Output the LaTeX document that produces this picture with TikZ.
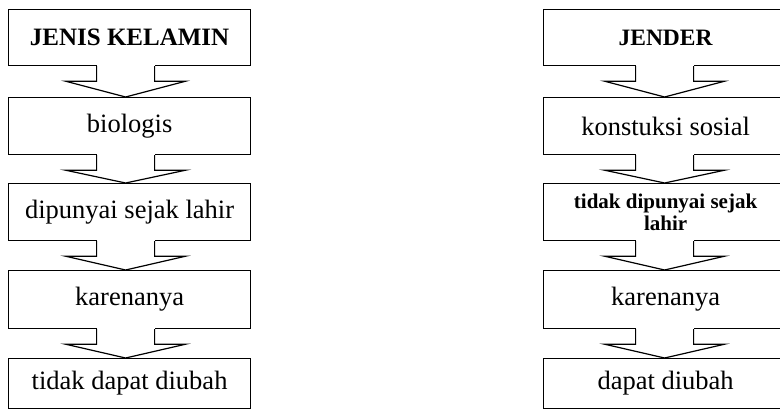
\documentclass[tikz,border=0pt]{standalone}
\usepackage{fontspec}
\setmainfont{Liberation Serif}

\begin{document}
\begin{tikzpicture}[x=1pt,y=-1pt,line width=1.2pt,line join=miter,
  kotak/.style={draw,anchor=north west,minimum width=242pt,inner sep=0pt,
    font=\fontsize{26.5}{28}\selectfont},
  kotakkanan/.style={kotak,minimum width=300pt,align=center}]
 \useasboundingbox (0,0) rectangle (780,410);
 \clip (0,0) rectangle (780,410);
 % kolom kiri
 \node[kotak,minimum height=56pt,font=\fontsize{25}{28}\selectfont\bfseries] (l1) at (8,9) {JENIS KELAMIN};
 \node[kotak,minimum height=57pt] (l2) at (8,97) {biologis};
 \node[kotak,minimum height=57pt] (l3) at (8,183) {dipunyai sejak lahir};
 \node[kotak,minimum height=58pt] (l4) at (8,270) {karenanya};
 \node[kotak,minimum height=50pt] (l5) at (8,358) {tidak dapat diubah};
 % kolom kanan (terpotong di tepi kanan)
 \node[kotakkanan,minimum height=56pt,font=\fontsize{23.5}{28}\selectfont\bfseries] (r1) at (543,9) {JENDER\hspace*{56pt}};
 \node[kotakkanan,minimum height=57pt] (r2) at (543,97) {konstuksi sosial\hspace*{56pt}};
 \node[kotakkanan,minimum height=57pt,font=\fontsize{21}{21.5}\selectfont\bfseries] (r3) at (543,183) {tidak dipunyai sejak\hspace*{56pt}\\lahir\hspace*{56pt}};
 \node[kotakkanan,minimum height=58pt] (r4) at (543,270) {karenanya\hspace*{56pt}};
 \node[kotakkanan,minimum height=50pt] (r5) at (543,358) {dapat diubah\hspace*{56pt}};
 % panah
 \foreach \u/\v/\dx in {l1/l2/-4,l2/l3/-4,l3/l4/-4,l4/l5/-4,r1/r2/-29,r2/r3/-29,r3/r4/-29,r4/r5/-29}{%
   \fill[white] ([xshift=\dx pt-29pt,yshift=1pt]\u.south) rectangle ([xshift=\dx pt+29pt,yshift=-15pt]\u.south);
   \draw ([xshift=\dx pt-29pt]\u.south) -- ++(0,15) -- ++(-31,0) -- ([xshift=\dx pt]\v.north)
     -- ([xshift=\dx pt+60pt,yshift=-15pt]\u.south) -- ++(-31,0) -- ++(0,-15);
 }
\end{tikzpicture}
\end{document}
